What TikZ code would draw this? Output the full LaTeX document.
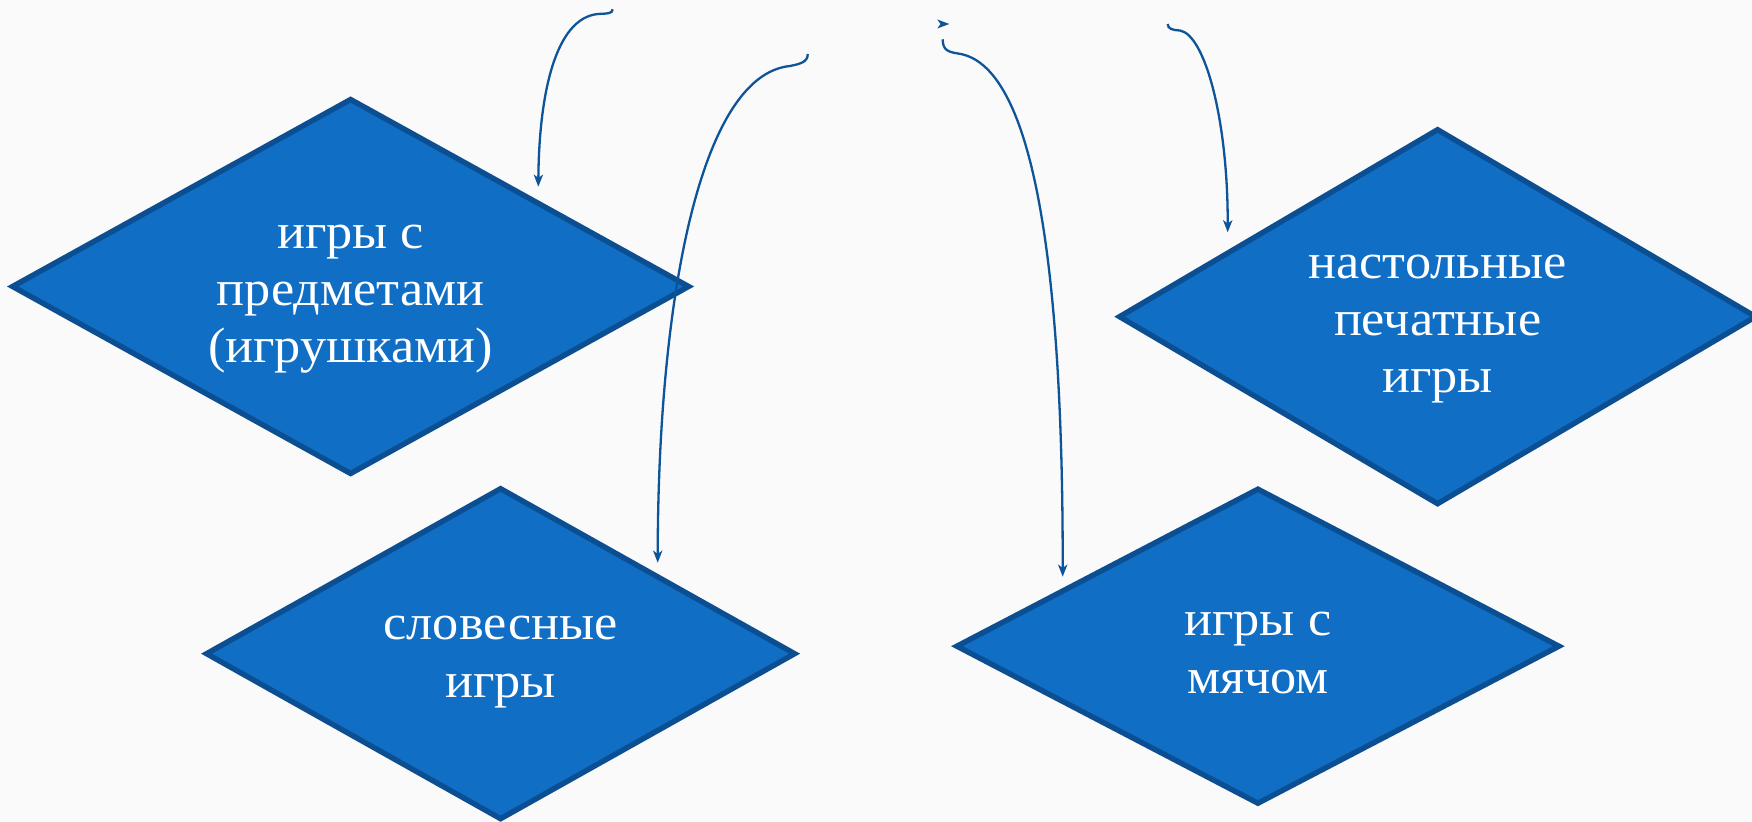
\documentclass[tikz,border=0pt]{standalone}
\usepackage{fontspec}
\setmainfont[FakeStretch=1.05]{Liberation Serif}
\usetikzlibrary{shapes.geometric,arrows.meta}
\definecolor{gemfill}{HTML}{116EC5}
\definecolor{gemline}{HTML}{0B4F92}
\definecolor{linkcol}{HTML}{0D5498}
\definecolor{bgcol}{HTML}{FAFAFA}
\tikzset{
  gem/.style={diamond, draw=gemline, fill=gemfill, line width=2.7pt, inner sep=0pt, outer sep=0pt},
  lbl/.style={text=white, align=center, inner sep=0pt, font=\fontsize{24.9pt}{28.6pt}\selectfont},
  link/.style={draw=linkcol, line width=1.15pt, -{Stealth[length=6pt,width=4.6pt,inset=1.6pt]}}
}
\begin{document}
\begin{tikzpicture}[x=0.5pt,y=-0.5pt]
\path[fill=bgcol] (0,0) rectangle (1752,822);
\useasboundingbox (0,0) rectangle (1752,822);
% diamonds
\node[gem, minimum width=338pt, minimum height=187pt] (d1) at (350.6,286.5) {};
\node[gem, minimum width=318pt, minimum height=187pt] (d2) at (1437.6,316.7) {};
\node[gem, minimum width=294pt, minimum height=165pt] (d3) at (500.6,653.7) {};
\node[gem, minimum width=301pt, minimum height=157pt] (d4) at (1257.9,646.2) {};
% labels
\node[lbl] (t1) at (350.6,299) {игры с\\предметами\\(игрушками)};
\node[lbl] (t2) at (1437.6,329) {настольные\\печатные\\игры};
\node[lbl] (t3) at (500.6,662) {словесные\\игры};
\node[lbl] (t4) at (1257.9,653) {игры с\\мячом};
% connector ends
\coordinate (a0) at (612.7,9.3);
\coordinate (a1) at (538.3,186.7);
\coordinate (b0) at (807.7,54);
\coordinate (b1) at (657.7,562.7);
\coordinate (c0) at (942.7,39.3);
\coordinate (c1) at (1062.7,576.7);
\coordinate (e0) at (1167.7,24);
\coordinate (e1) at (1227.7,232.3);
\coordinate (h) at (949.3,24);
% connectors
\draw[link] (a0) .. controls (612.7,14) and (606,13.5) .. (598,14) .. controls (555,18) and (539,95) .. (a1);
\draw[link] (b0) .. controls (808,62) and (800,64) .. (790,66) .. controls (700,75) and (658,300) .. (b1);
\draw[link] (c0) .. controls (942.7,50) and (948,52) .. (958,53.5) .. controls (1040,65) and (1063,300) .. (c1);
\draw[link] (e0) .. controls (1168,29) and (1172,30) .. (1180,30.5) .. controls (1205,35) and (1228,120) .. (e1);
% stray arrowhead
\fill[linkcol] (h) -- ++(-12,-4.5) -- ++(3.2,4.5) -- ++(-3.2,4.5) -- cycle;
\end{tikzpicture}
\end{document}
